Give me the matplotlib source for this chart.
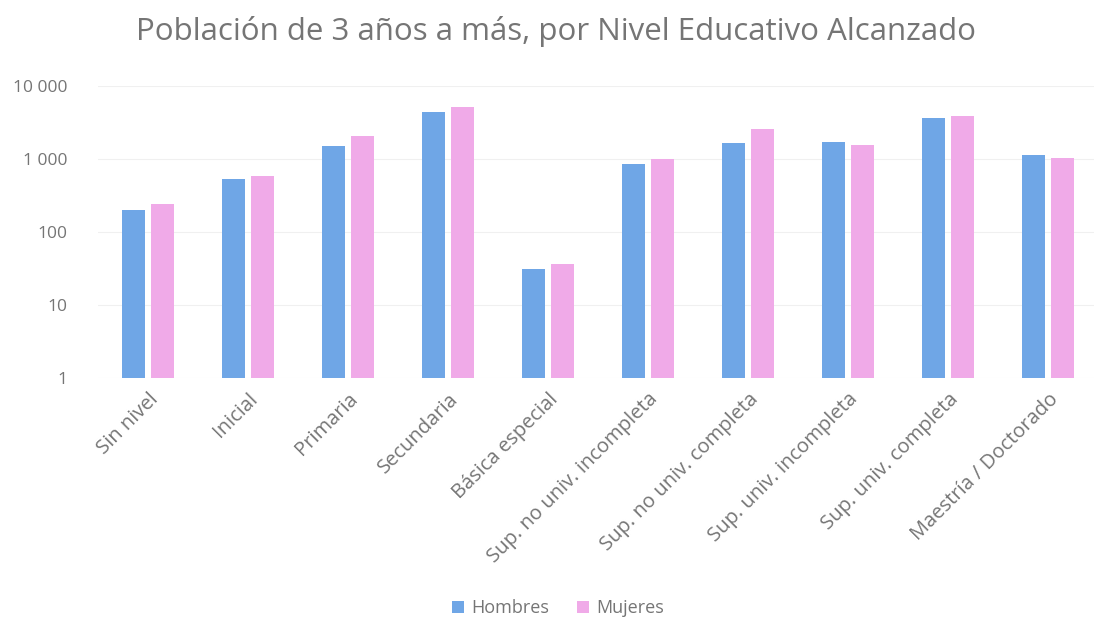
import numpy as np
import matplotlib.pyplot as plt
from matplotlib.ticker import FixedLocator, FuncFormatter

niveles = ['Sin nivel', 'Inicial', 'Primaria', 'Secundaria', 'Básica especial',
           'Sup. no univ. incompleta', 'Sup. no univ. completa',
           'Sup. univ. incompleta', 'Sup. univ. completa', 'Maestría / Doctorado']
hombres = [200, 527, 1510, 4360, 31, 855, 1670, 1710, 3700, 1130]
mujeres = [246, 585, 2090, 5230, 36, 990, 2580, 1550, 3920, 1020]

azul = '#6fa6e6'
rosa = '#f0aae8'
gris = '#757575'

plt.rcParams['font.family'] = ['Open Sans', 'DejaVu Sans']

fig = plt.figure(figsize=(10.94, 6.26), dpi=100)
ax = fig.add_axes([0.0896, 0.396, 0.914, 0.4666])

x = np.arange(len(niveles))
w = 0.23
ax.bar(x - 0.145, hombres, w, color=azul, label='Hombres', zorder=3)
ax.bar(x + 0.145, mujeres, w, color=rosa, label='Mujeres', zorder=3)

ax.set_yscale('log')
ax.set_ylim(1, 10000)
ax.set_xlim(-0.5, 9.5)
ax.yaxis.set_major_locator(FixedLocator([1, 10, 100, 1000, 10000]))
ax.yaxis.set_minor_locator(FixedLocator([]))
ax.yaxis.set_major_formatter(FuncFormatter(lambda v, p: f'{int(v):,}'.replace(',', ' ')))
ax.grid(axis='y', color='#f0f0f0', linewidth=0.8, zorder=0)

for s in ax.spines.values():
    s.set_visible(False)
ax.tick_params(axis='both', length=0, colors=gris)
ax.tick_params(axis='y', pad=22, labelsize=12.5)
ax.set_xticks(x)
ax.set_xticklabels(niveles, rotation=45, ha='right', rotation_mode='anchor', fontsize=14.5)
ax.tick_params(axis='x', pad=8)

fig.suptitle('Población de 3 años a más, por Nivel Educativo Alcanzado',
             x=0.508, y=0.975, fontsize=22.5, color=gris)

fig.legend(loc='lower center', bbox_to_anchor=(0.51, -0.012), ncol=2, frameon=False,
           fontsize=13, labelcolor=gris, handlelength=0.7, handleheight=0.7,
           handletextpad=0.4, columnspacing=1.5)

fig.savefig('out.png', dpi=100)
